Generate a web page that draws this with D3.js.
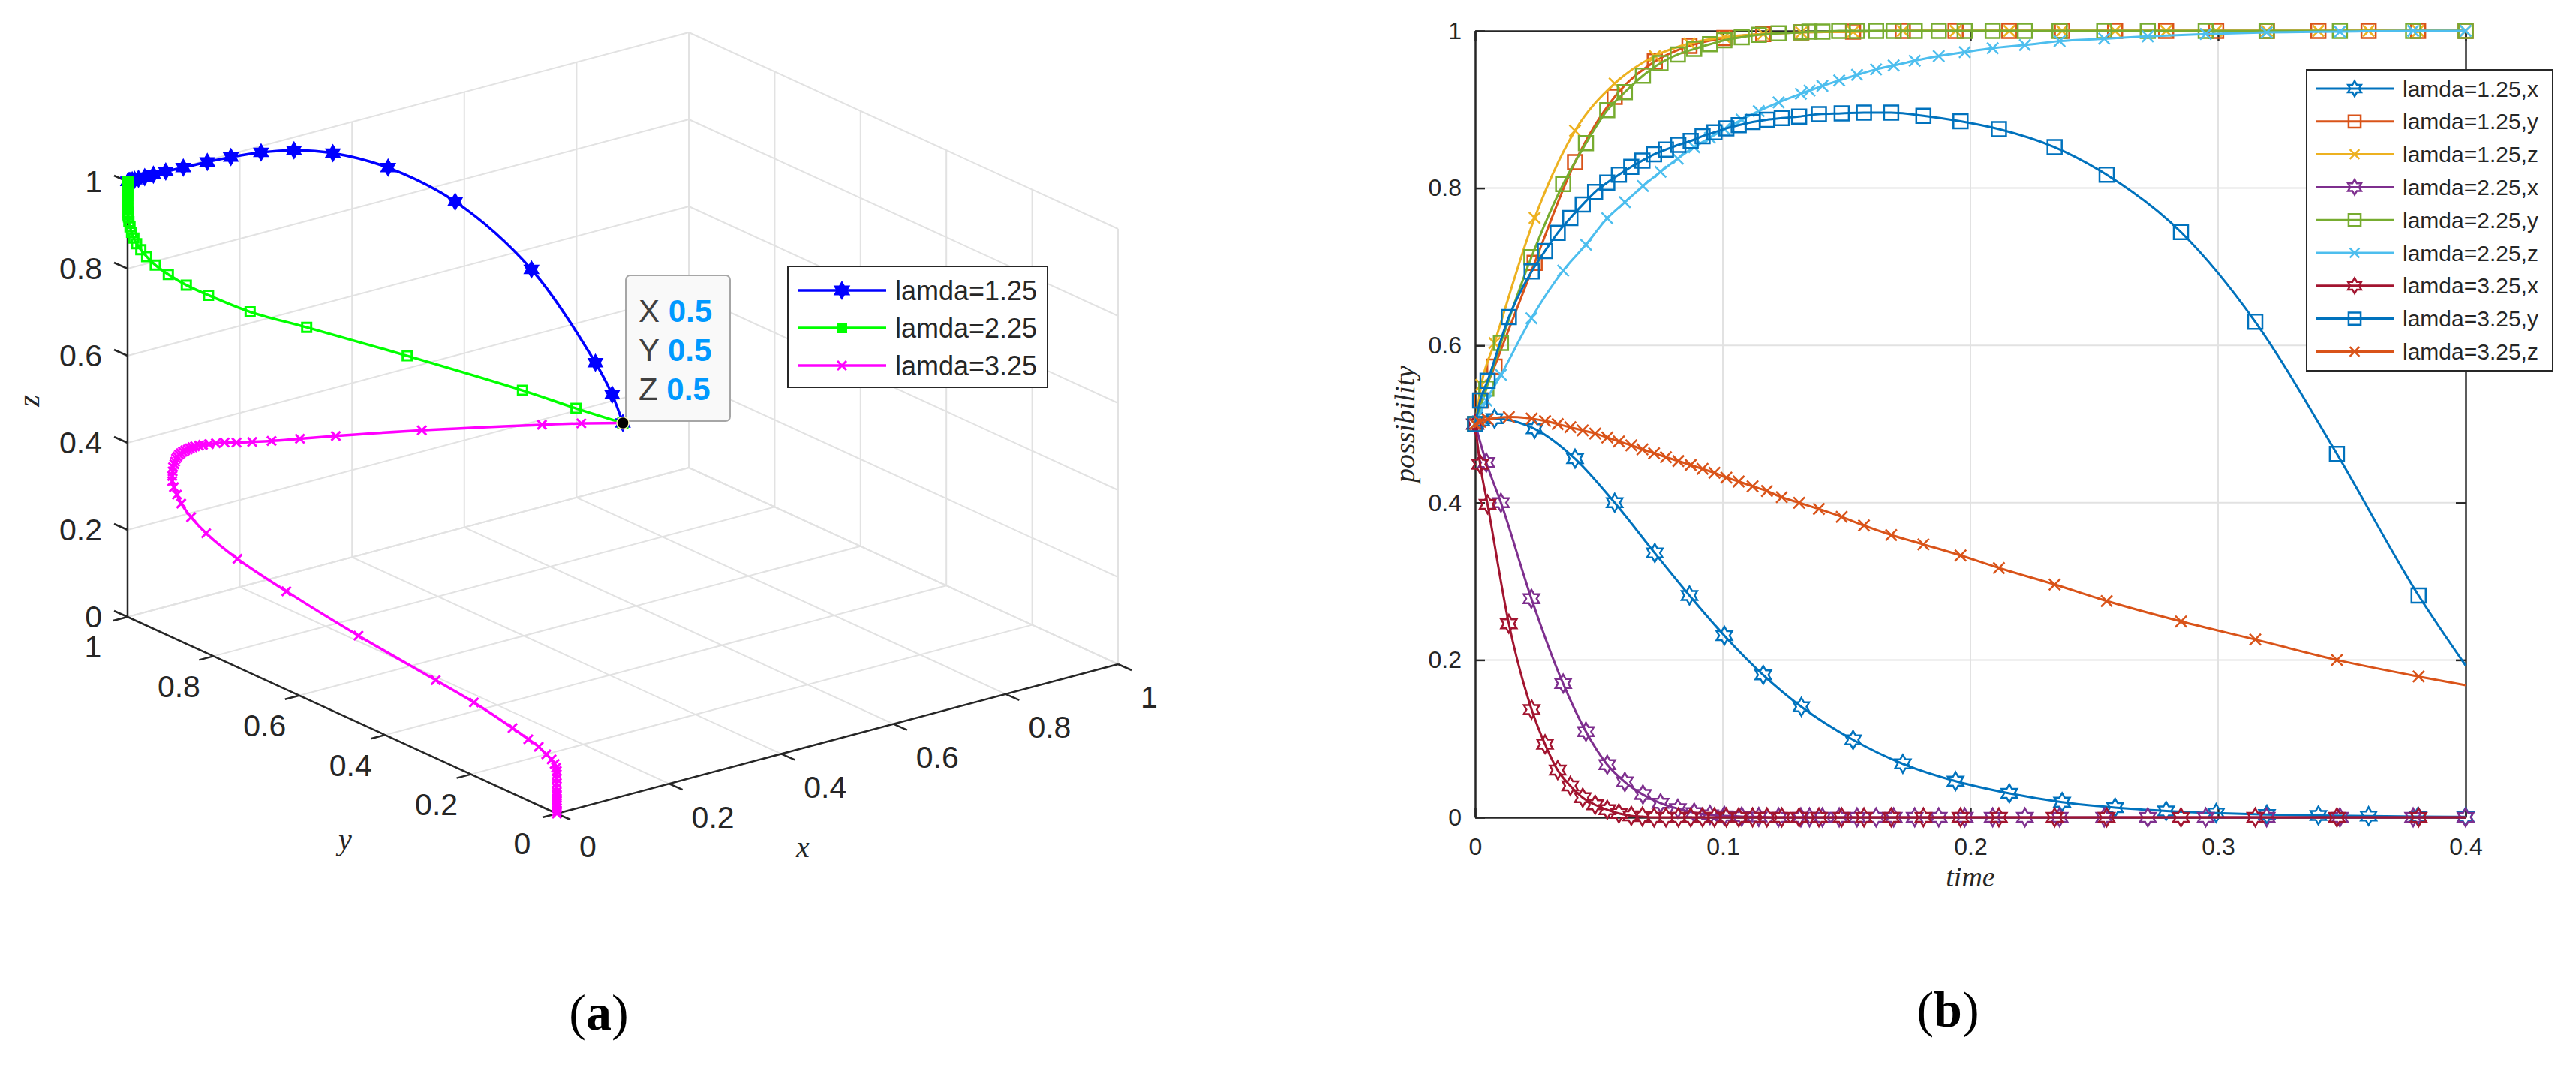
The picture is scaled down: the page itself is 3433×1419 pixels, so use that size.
<!DOCTYPE html>
<html>
<head>
<meta charset="utf-8">
<script src="https://cdn.jsdelivr.net/npm/d3@7"></script>
<style>
  body { margin: 0; background: #fff; }
  svg { display: block; }
</style>
</head>
<body>
<div id="chart"></div>
<script>
// ---------- values ----------
// lamda = 1.25 (solver steps, shared by x, y, z)
const t125 = [0, 0.0025, 0.0078, 0.024, 0.0403, 0.0563, 0.0725, 0.0865, 0.1006, 0.1163, 0.1317, 0.1526,
  0.1727, 0.194, 0.2157, 0.237, 0.2584, 0.279, 0.2992, 0.3197, 0.3405, 0.3608, 0.3808, 0.4];
const x125 = [0.5, 0.504, 0.507, 0.494, 0.456, 0.400, 0.336, 0.282, 0.231, 0.181, 0.1405, 0.0985,
  0.068, 0.046, 0.0305, 0.0194, 0.0124, 0.0082, 0.0054, 0.0036, 0.0024, 0.0016, 0.001, 0.0007];
const y125 = [0.5, 0.53, 0.573, 0.705, 0.833, 0.916, 0.961, 0.981, 0.991, 0.996, 0.998, 0.999,
  1, 1, 1, 1, 1, 1, 1, 1, 1, 1, 1, 1];
const z125 = [0.5, 0.55, 0.603, 0.762, 0.873, 0.933, 0.968, 0.984, 0.992, 0.996, 0.998, 0.999,
  1, 1, 1, 1, 1, 1, 1, 1, 1, 1, 1, 1];

// lamda = 2.25
const t225 = [0, 0.0045, 0.0104, 0.0227, 0.0355, 0.0447, 0.0533, 0.0604, 0.0677, 0.0748, 0.0818, 0.0884,
  0.0948, 0.1006, 0.1076, 0.1145, 0.1225, 0.1315, 0.135, 0.1402, 0.147, 0.1542, 0.1619, 0.169, 0.1775,
  0.1872, 0.1977, 0.209, 0.222, 0.236, 0.254, 0.2716, 0.295, 0.3196, 0.3492, 0.3788, 0.4];
const x225 = [0.5, 0.451, 0.400, 0.278, 0.170, 0.109, 0.067, 0.045, 0.029, 0.018, 0.011, 0.006,
  0.003, 0.002, 0.001, 0.0005, 0, 0, 0, 0, 0, 0, 0, 0, 0,
  0, 0, 0, 0, 0, 0, 0, 0, 0, 0, 0, 0];
const y225 = [0.5, 0.545, 0.603, 0.712, 0.805, 0.857, 0.899, 0.922, 0.943, 0.959, 0.970, 0.977,
  0.983, 0.988, 0.992, 0.995, 0.997, 0.998, 0.999, 0.999, 1, 1, 1, 1, 1,
  1, 1, 1, 1, 1, 1, 1, 1, 1, 1, 1, 1];
const z225 = [0.5, 0.53, 0.5626, 0.6345, 0.695, 0.728, 0.7616, 0.782, 0.8025, 0.8207, 0.8375, 0.852,
  0.864, 0.875, 0.887, 0.898, 0.909, 0.920, 0.924, 0.930, 0.937, 0.944, 0.951, 0.956, 0.962,
  0.968, 0.973, 0.978, 0.982, 0.987, 0.990, 0.993, 0.996, 0.998, 0.999, 1, 1];

// lamda = 3.25 (last entry is where the curve leaves the time axis, no marker there)
const t325 = [0, 0.002, 0.005, 0.0136, 0.0228, 0.0282, 0.0333, 0.0384, 0.0434, 0.0484, 0.0533, 0.058,
  0.063, 0.0675, 0.0722, 0.077, 0.082, 0.087, 0.0918, 0.0966, 0.1014, 0.1064, 0.112, 0.1178,
  0.1238, 0.1308, 0.1388, 0.148, 0.157, 0.168, 0.181, 0.196, 0.2115, 0.234, 0.255, 0.285,
  0.315, 0.348, 0.381, 0.4];
const x325 = [0.5, 0.449, 0.398, 0.246, 0.137, 0.093, 0.060, 0.040, 0.025, 0.016, 0.0097, 0.005,
  0.002, 0.001, 0, 0, 0, 0, 0, 0, 0, 0, 0, 0,
  0, 0, 0, 0, 0, 0, 0, 0, 0, 0, 0, 0,
  0, 0, 0, 0];
const y325 = [0.5, 0.53, 0.555, 0.636, 0.694, 0.72, 0.743, 0.762, 0.779, 0.795, 0.807, 0.817,
  0.827, 0.835, 0.843, 0.849, 0.855, 0.860, 0.866, 0.871, 0.876, 0.880, 0.884, 0.887,
  0.889, 0.891, 0.894, 0.895, 0.896, 0.896, 0.892, 0.885, 0.875, 0.852, 0.817, 0.744,
  0.630, 0.462, 0.282, 0.193];
const z325 = [0.5, 0.503, 0.506, 0.509, 0.507, 0.504, 0.500, 0.496, 0.492, 0.488, 0.483, 0.478,
  0.473, 0.468, 0.463, 0.458, 0.453, 0.448, 0.443, 0.438, 0.432, 0.427, 0.421, 0.415,
  0.407, 0.400, 0.392, 0.382, 0.371, 0.359, 0.347, 0.333, 0.317, 0.296, 0.275, 0.249,
  0.226, 0.200, 0.179, 0.168];
// the 3-D panel keeps integrating lamda=3.25 down to the origin (x stays 0)
const tailY325 = [0.103, 0.0664, 0.042, 0.0245, 0.0122, 0.005, 0.0015, 0, 0, 0, 0, 0, 0, 0, 0, 0, 0, 0, 0, 0, 0, 0];
const tailZ325 = [0.150, 0.1407, 0.1345, 0.125, 0.119, 0.112, 0.105, 0.098, 0.09, 0.08, 0.07, 0.06,
  0.05, 0.045, 0.04, 0.035, 0.03, 0.025, 0.02, 0.013, 0.006, 0];

const ticks3d = [0, 0.2, 0.4, 0.6, 0.8, 1];
const tTicks = [0, 0.1, 0.2, 0.3, 0.4];
const vTicks = [0, 0.2, 0.4, 0.6, 0.8, 1];
const tip = [0.5, 0.5, 0.5];

// ---------- page ----------
const W = 3433, H = 1419;
const svg = d3.select("#chart").append("svg")
  .attr("width", W).attr("height", H)
  .attr("viewBox", [0, 0, W, H]);

const sans = "'Liberation Sans', Arial, Helvetica, sans-serif";
const serif = "'Liberation Serif', 'Times New Roman', serif";
const ink = "#262626";

// marker shapes (size = box width squared)
const hexagram = { draw(ctx, size) {
  const R = Math.sqrt(size) / 2, r = R / Math.sqrt(3);
  for (let i = 0; i < 12; i++) {
    const a = -Math.PI / 2 + i * Math.PI / 6, rr = i % 2 ? r : R;
    const px = rr * Math.cos(a), py = rr * Math.sin(a);
    if (i) ctx.lineTo(px, py); else ctx.moveTo(px, py);
  }
  ctx.closePath();
}};
const square = { draw(ctx, size) { const h = Math.sqrt(size) / 2; ctx.rect(-h, -h, 2 * h, 2 * h); } };
const cross = { draw(ctx, size) {
  const h = Math.sqrt(size) / 2;
  ctx.moveTo(-h, -h); ctx.lineTo(h, h); ctx.moveTo(h, -h); ctx.lineTo(-h, h);
}};
const shapes = { hex: hexagram, sq: square, x: cross };

function marker(g, kind, d, color, fill, sw) {
  return g.append("path")
    .attr("d", d3.symbol().type(shapes[kind]).size(d * d)())
    .attr("fill", fill ? color : "none")
    .attr("stroke", color).attr("stroke-width", sw);
}

// =========================================================
// (a) 3-D trajectories
// =========================================================
const A = svg.append("g");
const F3 = [742, 1084], EX = [748, -199], EY = [-572, -262], EZ = [0, -580];
const u = d3.scaleLinear().domain([0, 1]).range([0, 1]);
const proj = (x, y, z) => [
  F3[0] + u(x) * EX[0] + u(y) * EY[0] + u(z) * EZ[0],
  F3[1] + u(x) * EX[1] + u(y) * EY[1] + u(z) * EZ[1]
];

const grid3 = A.append("g").attr("stroke", "#e2e2e2").attr("stroke-width", 2);
const seg = (g, p, q) => g.append("line").attr("x1", p[0]).attr("y1", p[1]).attr("x2", q[0]).attr("y2", q[1]);
ticks3d.forEach(k => {
  seg(grid3, proj(k, 0, 0), proj(k, 1, 0));   // floor
  seg(grid3, proj(0, k, 0), proj(1, k, 0));
  seg(grid3, proj(k, 1, 0), proj(k, 1, 1));   // back wall y=1
  seg(grid3, proj(0, 1, k), proj(1, 1, k));
  seg(grid3, proj(1, k, 0), proj(1, k, 1));   // side wall x=1
  seg(grid3, proj(1, 0, k), proj(1, 1, k));
});

const ax3 = A.append("g").attr("stroke", ink).attr("stroke-width", 2.5);
seg(ax3, proj(0, 1, 0), proj(0, 1, 1));
seg(ax3, proj(0, 1, 0), proj(0, 0, 0));
seg(ax3, proj(0, 0, 0), proj(1, 0, 0));

const lab3 = A.append("g").attr("font-family", sans).attr("font-size", 41).attr("fill", ink);
ticks3d.forEach((k, i) => {
  const label = String(k);
  let p = proj(0, 1, k);                           // z axis
  seg(ax3, p, [p[0] - 18, p[1] - 8]);
  lab3.append("text").attr("x", p[0] - 34).attr("y", p[1]).attr("dy", "0.35em")
    .attr("text-anchor", "end").text(label);
  p = proj(0, k, 0);                               // y axis
  seg(ax3, p, [p[0] - 19, p[1] + 5]);
  lab3.append("text").attr("x", p[0] - 46).attr("y", p[1] + 40).attr("dy", "0.35em")
    .attr("text-anchor", "middle").text(label);
  p = proj(k, 0, 0);                               // x axis
  seg(ax3, p, [p[0] + 18, p[1] + 8]);
  lab3.append("text").attr("x", p[0] + 30).attr("y", p[1] + 44).attr("dy", "0.35em")
    .attr("text-anchor", "start").text(label);
});

const it3 = A.append("g").attr("font-family", serif).attr("font-style", "italic")
  .attr("font-size", 40).attr("fill", ink).attr("text-anchor", "middle");
it3.append("text").attr("transform", "translate(38,534) rotate(-90)").attr("dy", "0.35em").text("z");
it3.append("text").attr("x", 460).attr("y", 1118).attr("dy", "0.35em").text("y");
it3.append("text").attr("x", 1070).attr("y", 1128).attr("dy", "0.35em").text("x");

const traj = [
  { name: "lamda=1.25", color: "#0000ff", mark: "hex", size: 21, fill: true, sw: 2,
    xs: x125, ys: y125, zs: z125 },
  { name: "lamda=2.25", color: "#00ff00", mark: "sq", size: 12, fill: false, sw: 3,
    xs: x225, ys: y225, zs: z225 },
  { name: "lamda=3.25", color: "#ff00ff", mark: "x", size: 12, fill: false, sw: 3,
    xs: x325.concat(tailY325.map(() => 0)), ys: y325.concat(tailY325), zs: z325.concat(tailZ325) }
];

const line3 = d3.line().curve(d3.curveCatmullRom.alpha(0.5));
traj.forEach(s => {
  const pts = s.xs.map((x, i) => proj(x, s.ys[i], s.zs[i]));
  A.append("path").attr("d", line3(pts)).attr("fill", "none")
    .attr("stroke", s.color).attr("stroke-width", 3.5);
  const mg = A.append("g");
  pts.forEach(p => marker(mg, s.mark, s.size, s.color, s.fill, s.sw)
    .attr("transform", `translate(${p[0]},${p[1]})`));
});

// data tip
const tp = proj(...tip);
const tipG = A.append("g");
tipG.append("rect").attr("x", 834).attr("y", 367).attr("width", 139).attr("height", 194)
  .attr("rx", 6).attr("fill", "#f9f9f9").attr("stroke", "#a6a6a6").attr("stroke-width", 2);
["X", "Y", "Z"].forEach((k, i) => {
  const tt = tipG.append("text").attr("x", 851).attr("y", 414 + i * 52).attr("dy", "0.35em")
    .attr("font-family", sans).attr("font-size", 42);
  tt.append("tspan").attr("fill", "#404040").text(k + " ");
  tt.append("tspan").attr("fill", "#0099ff").attr("font-weight", "bold").text(String(tip[i]));
});
tipG.append("circle").attr("cx", tp[0]).attr("cy", tp[1]).attr("r", 8)
  .attr("fill", "#000").attr("stroke", "#f4f0b0").attr("stroke-width", 1.5);

// legend (a)
const legA = A.append("g");
legA.append("rect").attr("x", 1050).attr("y", 355).attr("width", 346).attr("height", 161)
  .attr("fill", "#fff").attr("stroke", ink).attr("stroke-width", 2);
traj.forEach((s, i) => {
  const yy = 387 + i * 50;
  legA.append("line").attr("x1", 1063).attr("x2", 1181).attr("y1", yy).attr("y2", yy)
    .attr("stroke", s.color).attr("stroke-width", 3.5);
  marker(legA, s.mark, s.mark === "hex" ? 22 : 12, s.color, true, s.mark === "x" ? 3 : 2)
    .attr("transform", `translate(1122,${yy})`);
  legA.append("text").attr("x", 1193).attr("y", yy).attr("dy", "0.35em")
    .attr("font-family", sans).attr("font-size", 36).attr("fill", ink).text(s.name);
});

// =========================================================
// (b) time series
// =========================================================
const B = svg.append("g");
const x = d3.scaleLinear().domain([0, 0.4]).range([1966, 3286]);
const y = d3.scaleLinear().domain([0, 1]).range([1089, 41]);

const gridB = B.append("g").attr("stroke", "#e2e2e2").attr("stroke-width", 2);
tTicks.slice(1, -1).forEach(t => seg(gridB, [x(t), y(0)], [x(t), y(1)]));
vTicks.slice(1, -1).forEach(v => seg(gridB, [x(0), y(v)], [x(0.4), y(v)]));

const styleAxis = g => {
  g.attr("font-family", sans).attr("font-size", 32);
  g.selectAll("path, line").attr("stroke", ink).attr("stroke-width", 2.5);
  g.selectAll("text").attr("fill", ink);
};
B.append("g").attr("transform", `translate(0,${y(0)})`)
  .call(d3.axisBottom(x).tickValues(tTicks).tickFormat(d => String(d))
    .tickSizeInner(-13).tickSizeOuter(0).tickPadding(27)).call(styleAxis);
B.append("g").attr("transform", `translate(0,${y(1)})`)
  .call(d3.axisTop(x).tickValues(tTicks).tickFormat("").tickSizeInner(-13).tickSizeOuter(0)).call(styleAxis);
B.append("g").attr("transform", `translate(${x(0)},0)`)
  .call(d3.axisLeft(y).tickValues(vTicks).tickFormat(d => String(d))
    .tickSizeInner(-13).tickSizeOuter(0).tickPadding(18)).call(styleAxis);
B.append("g").attr("transform", `translate(${x(0.4)},0)`)
  .call(d3.axisRight(y).tickValues(vTicks).tickFormat("").tickSizeInner(-13).tickSizeOuter(0)).call(styleAxis);

const itB = B.append("g").attr("font-family", serif).attr("font-style", "italic")
  .attr("font-size", 38).attr("fill", ink).attr("text-anchor", "middle");
itB.append("text").attr("x", 2626).attr("y", 1168).attr("dy", "0.35em").text("time");
itB.append("text").attr("transform", "translate(1872,565) rotate(-90)").attr("dy", "0.35em").text("possibility");

const series = [
  { name: "lamda=1.25,x", t: t125, v: x125, color: "#0072BD", mark: "hex", last: true },
  { name: "lamda=1.25,y", t: t125, v: y125, color: "#D95319", mark: "sq", last: true },
  { name: "lamda=1.25,z", t: t125, v: z125, color: "#EDB120", mark: "x", last: true },
  { name: "lamda=2.25,x", t: t225, v: x225, color: "#7E2F8E", mark: "hex", last: true },
  { name: "lamda=2.25,y", t: t225, v: y225, color: "#77AC30", mark: "sq", last: true },
  { name: "lamda=2.25,z", t: t225, v: z225, color: "#4DBEEE", mark: "x", last: true },
  { name: "lamda=3.25,x", t: t325, v: x325, color: "#A2142F", mark: "hex", last: false },
  { name: "lamda=3.25,y", t: t325, v: y325, color: "#0072BD", mark: "sq", last: false },
  { name: "lamda=3.25,z", t: t325, v: z325, color: "#D95319", mark: "x", last: false }
];
const mSize = { hex: 24, sq: 19, x: 15 };

const lineB = d3.line().x(d => x(d[0])).y(d => y(d[1])).curve(d3.curveMonotoneX);
series.forEach(s => {
  const pts = s.t.map((t, i) => [t, s.v[i]]);
  B.append("path").attr("d", lineB(pts)).attr("fill", "none")
    .attr("stroke", s.color).attr("stroke-width", 3);
  const mg = B.append("g");
  (s.last ? pts : pts.slice(0, -1)).forEach(d =>
    marker(mg, s.mark, mSize[s.mark], s.color, false, 2.5)
      .attr("transform", `translate(${x(d[0])},${y(d[1])})`));
});

// legend (b)
const legB = B.append("g");
legB.append("rect").attr("x", 3074).attr("y", 93).attr("width", 328).attr("height", 401)
  .attr("fill", "#fff").attr("stroke", ink).attr("stroke-width", 2);
series.forEach((s, i) => {
  const yy = 118 + i * 43.8;
  legB.append("line").attr("x1", 3086).attr("x2", 3191).attr("y1", yy).attr("y2", yy)
    .attr("stroke", s.color).attr("stroke-width", 3);
  marker(legB, s.mark, mSize[s.mark] * 0.85, s.color, false, 2.5)
    .attr("transform", `translate(3138,${yy})`);
  legB.append("text").attr("x", 3202).attr("y", yy).attr("dy", "0.35em")
    .attr("font-family", sans).attr("font-size", 30).attr("fill", ink).text(s.name);
});

// panel captions
[["a", 798, 1348], ["b", 2596, 1344]].forEach(([k, cx, cy]) => {
  const c = svg.append("text").attr("x", cx).attr("y", cy).attr("dy", "0.35em")
    .attr("text-anchor", "middle").attr("font-family", serif).attr("font-size", 68).attr("fill", "#000");
  c.append("tspan").text("(");
  c.append("tspan").attr("font-weight", "bold").text(k);
  c.append("tspan").text(")");
});
</script>
</body>
</html>
